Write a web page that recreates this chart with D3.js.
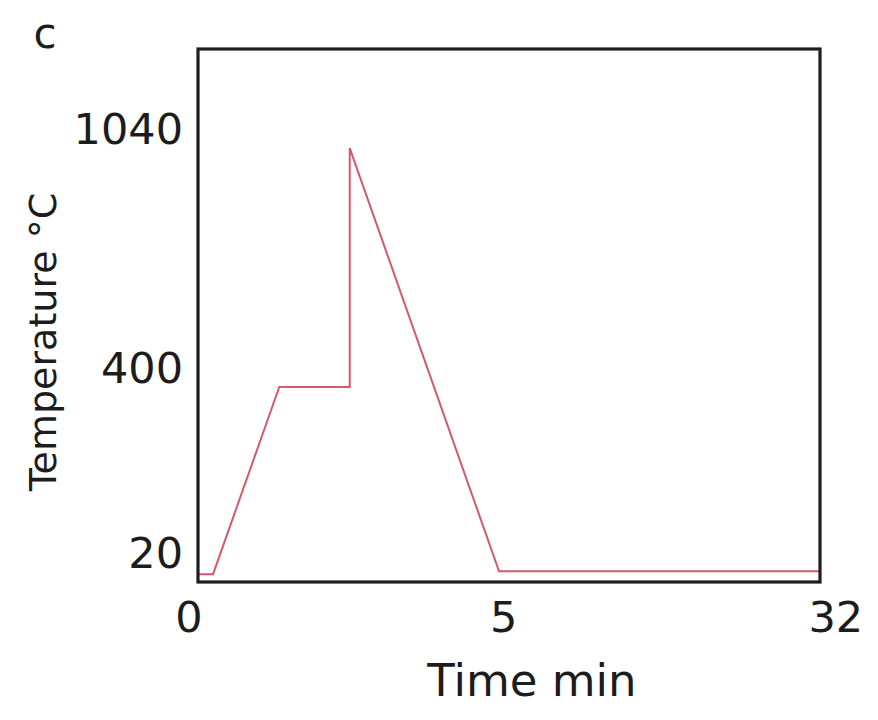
<!DOCTYPE html>
<html>
<head>
<meta charset="utf-8">
<script src="https://cdn.jsdelivr.net/npm/d3@7"></script>
<style>
  html, body { margin: 0; padding: 0; background: #ffffff; }
  svg { display: block; }
  text { font-family: "DejaVu Sans", Verdana, sans-serif; fill: #1c1c1c; }
</style>
</head>
<body>
<svg id="chart" width="878" height="720"></svg>
<script>
// Heating profile: time (min) vs furnace temperature (°C)
const timeMin = [0, 0.25, 1.35, 2.52, 2.52, 5, 32];
const tempC   = [16, 16, 400, 400, 1040, 22, 22];

// Axis breakpoints (the axes are drawn piecewise, not to a uniform scale)
const xBreaks = [0, 5, 32];
const yBreaks = [0, 400, 1040, 1300];
const xTickLabels = [0, 5, 32];
const yTickLabels = [20, 400, 1040];

const panelLabel = "c";
const xTitle = "Time min";
const yTitle = "Temperature °C";

const svg = d3.select("#chart");
const frame = { left: 198, right: 820, top: 49, bottom: 582 };
const W = frame.right - frame.left;
const H = frame.bottom - frame.top;

// piecewise-linear scales
const x = d3.scaleLinear()
  .domain(xBreaks)
  .range([frame.left, frame.left + W * 0.484, frame.right]);
const y = d3.scaleLinear()
  .domain(yBreaks)
  .range([frame.bottom, frame.bottom - H * 0.366, frame.bottom - H * 0.814, frame.top]);

// profile line
const pts = timeMin.map((t, i) => [t, tempC[i]]);
const line = d3.line().x(d => x(d[0])).y(d => y(d[1]));
svg.append("path")
  .datum(pts)
  .attr("d", line)
  .attr("fill", "none")
  .attr("stroke", "#d15a6d")
  .attr("stroke-width", 2)
  .attr("stroke-linejoin", "miter");

// plot frame
svg.append("rect")
  .attr("x", frame.left)
  .attr("y", frame.top)
  .attr("width", W)
  .attr("height", H)
  .attr("fill", "none")
  .attr("stroke", "#1e1e1e")
  .attr("stroke-width", 3.2);

// y tick labels (no tick marks)
const yAxis = d3.axisLeft(y)
  .tickValues(yTickLabels)
  .tickSize(0)
  .tickPadding(15)
  .tickFormat(d3.format("d"));
const gy = svg.append("g")
  .attr("transform", `translate(${frame.left},0)`)
  .call(yAxis);
gy.select(".domain").remove();
gy.selectAll("text")
  .attr("font-size", 43)
  .attr("font-family", "DejaVu Sans, Verdana, sans-serif")
  .attr("fill", "#1c1c1c")
  .attr("dy", "-0.1em");

// x tick labels
const xAxis = d3.axisBottom(x)
  .tickValues(xTickLabels)
  .tickSize(0)
  .tickPadding(19)
  .tickFormat(d3.format("d"));
const gx = svg.append("g")
  .attr("transform", `translate(0,${frame.bottom})`)
  .call(xAxis);
gx.select(".domain").remove();
const nX = xTickLabels.length;
gx.selectAll("text")
  .attr("font-size", 43)
  .attr("font-family", "DejaVu Sans, Verdana, sans-serif")
  .attr("fill", "#1c1c1c")
  .attr("text-anchor", (d, i) => i === 0 ? "end" : (i === nX - 1 ? "start" : "middle"))
  .attr("dx", (d, i) => i === 0 ? 4 : (i === nX - 1 ? -12 : 4));

// axis titles
svg.append("text")
  .attr("x", 532)
  .attr("y", 696)
  .attr("text-anchor", "middle")
  .attr("font-size", 45)
  .text(xTitle);

svg.append("text")
  .attr("transform", "translate(56,342) rotate(-90)")
  .attr("text-anchor", "middle")
  .attr("font-size", 38)
  .text(yTitle);

// panel letter
svg.append("text")
  .attr("x", 45)
  .attr("y", 48)
  .attr("text-anchor", "middle")
  .attr("font-size", 42)
  .text(panelLabel);
</script>
</body>
</html>
